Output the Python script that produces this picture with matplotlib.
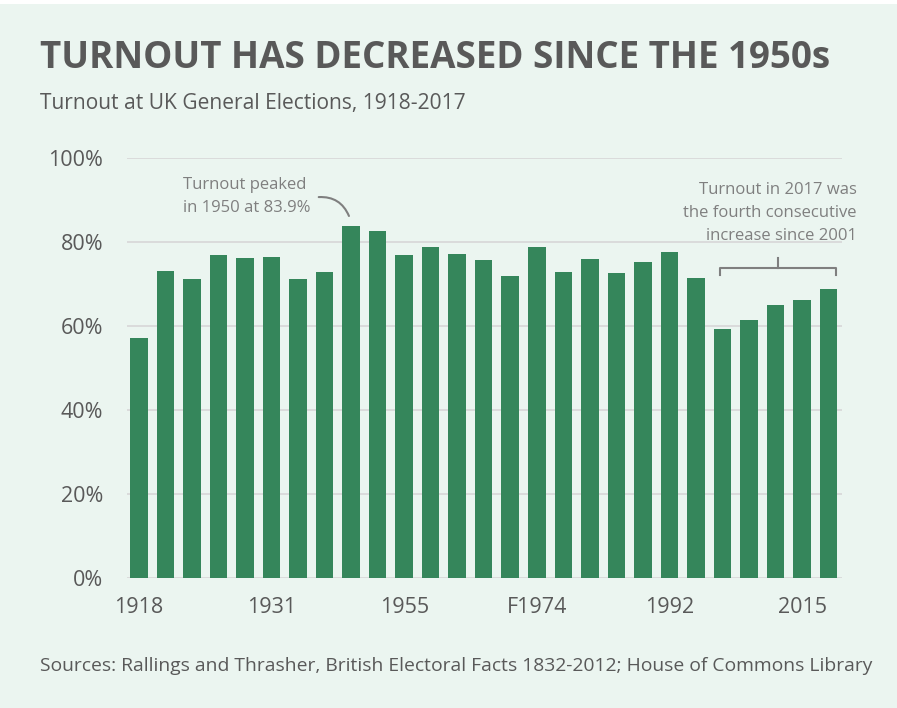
import matplotlib.pyplot as plt
import numpy as np
from matplotlib.patches import Rectangle

plt.rcParams['font.family'] = ['Open Sans', 'DejaVu Sans']

# Data
elections = ['1918', '1922', '1923', '1924', '1929', '1931', '1935', '1945', '1950',
             '1951', '1955', '1959', '1964', '1966', '1970', 'F1974', 'O1974', '1979',
             '1983', '1987', '1992', '1997', '2001', '2005', '2010', '2015', '2017']
turnout = [57.2, 73.0, 71.1, 77.0, 76.3, 76.4, 71.1, 72.8, 83.9,
           82.6, 76.8, 78.7, 77.1, 75.8, 72.0, 78.8, 72.8, 76.0,
           72.7, 75.3, 77.7, 71.4, 59.4, 61.4, 65.1, 66.2, 68.8]
shown_ticks = ['1918', '1931', '1955', 'F1974', '1992', '2015']

bg = '#ebf5f0'
green = '#35865b'
text_dark = '#595959'
note_grey = '#7f7f7f'

fig = plt.figure(figsize=(8.97, 7.08), dpi=100, facecolor=bg)
fig.patches.append(Rectangle((0, 0.994), 1, 0.006, transform=fig.transFigure,
                             facecolor='white', edgecolor='none'))
ax = fig.add_axes([0.1412, 0.1836, 0.797, 0.5932])
ax.set_facecolor(bg)

x = np.arange(len(elections))
ax.bar(x, turnout, width=0.66, color=green, zorder=3)

ax.set_xlim(-0.46, 26.49)
ax.set_ylim(0, 100)
ax.set_yticks(np.arange(0, 101, 20))
ax.set_yticklabels([f'{v}%' for v in range(0, 101, 20)])
ax.set_xticks([elections.index(t) for t in shown_ticks])
ax.set_xticklabels(shown_ticks)
ax.grid(axis='y', color='#d9d9d9', linewidth=1.3, zorder=0)
for s in ax.spines.values():
    s.set_visible(False)
ax.tick_params(axis='y', length=0, pad=17, labelsize=15.5, labelcolor=text_dark)
ax.tick_params(axis='x', length=0, pad=14, labelsize=15.5, labelcolor=text_dark)

# Title and subtitle
fig.text(40 / 897, 1 - 58 / 708, 'TURNOUT HAS DECREASED SINCE THE 1950s',
         fontsize=26.5, fontweight='bold', color=text_dark, va='center', ha='left')
fig.text(40 / 897, 1 - 103 / 708, 'Turnout at UK General Elections, 1918-2017',
         fontsize=15.1, color=text_dark, va='center', ha='left')
fig.text(40 / 897, 1 - 666 / 708,
         'Sources: Rallings and Thrasher, British Electoral Facts 1832-2012; House of Commons Library',
         fontsize=13.9, color=text_dark, va='center', ha='left')

# Peak annotation
ax.text(1.68, 95.5, 'Turnout peaked\nin 1950 at 83.9%', fontsize=12, color=note_grey,
        ha='left', va='top', linespacing=1.6)
ax.annotate('', xy=(7.92, 86.2), xytext=(6.78, 90.7),
            arrowprops=dict(arrowstyle='-', color=note_grey, linewidth=1.5,
                            connectionstyle='arc3,rad=-0.35', shrinkA=0, shrinkB=0))

# Recent increase annotation
ax.text(27.05, 94.3, 'Turnout in 2017 was\nthe fourth consecutive\nincrease since 2001',
        fontsize=12, color=note_grey, ha='right', va='top', linespacing=1.6,
        clip_on=False)
bx0, bx1 = 21.9, 26.27
bmid = (bx0 + bx1) / 2
ax.plot([bx0, bx0, bx1, bx1], [72.1, 73.9, 73.9, 72.1], color=note_grey, linewidth=1.5,
        zorder=4)
ax.plot([bmid, bmid], [73.9, 76.2], color=note_grey, linewidth=1.5, zorder=4)

fig.savefig('out.png', dpi=100, facecolor=bg)
